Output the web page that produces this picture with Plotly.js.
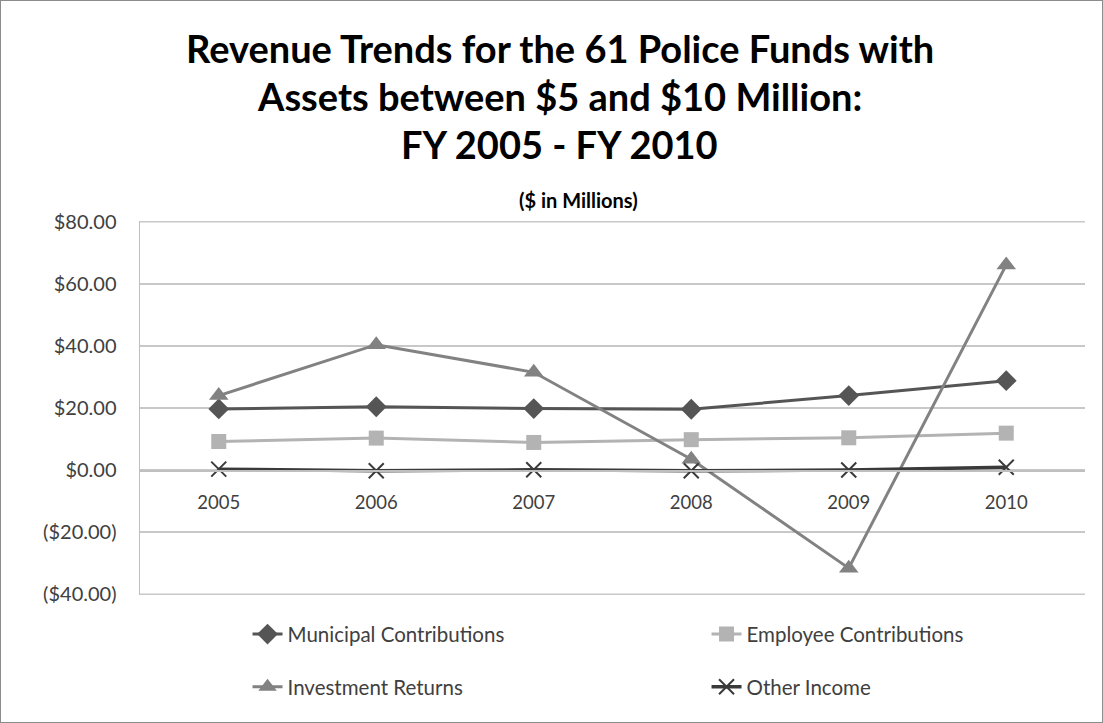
<!DOCTYPE html>
<html>
<head>
<meta charset="utf-8">
<script src="https://cdn.plot.ly/plotly-3.0.1.min.js"></script>
<style>
html,body{margin:0;padding:0;background:#fff;}
#chart{width:1101px;height:721px;border:1px solid #8c8c8c;}
</style>
</head>
<body>
<div id="chart"></div>
<script>
const years = ["2005","2006","2007","2008","2009","2010"];
const municipal = [19.7, 20.4, 19.8, 19.6, 24.0, 28.8];
const employee = [9.2, 10.3, 8.9, 9.8, 10.4, 11.9];
const investment = [24.0, 40.4, 31.5, 3.5, -31.6, 66.1];
const other = [0.3, -0.2, 0.1, -0.2, 0.0, 0.9];
const yTickVals = [-40, -20, 0, 20, 40, 60, 80];
const yTickText = ["($40.00)", "($20.00)", "$0.00", "$20.00", "$40.00", "$60.00", "$80.00"];
const titleLines = ["Revenue Trends for the 61 Police Funds with", "Assets between $5 and $10 Million:", "FY 2005 - FY 2010"];
const subtitle = "($ in Millions)";

const FONT = "Lato, 'Open Sans', sans-serif";
const GRID = "#c8c8c8";

const traces = [
  {x: years, y: municipal, name: "Municipal Contributions", mode: "lines+markers",
   line: {color: "#555555", width: 3}, marker: {symbol: "diamond", size: 16, color: "#555555"}, legend: "legend"},
  {x: years, y: employee, name: "Employee Contributions", mode: "lines+markers",
   line: {color: "#b3b3b3", width: 3}, marker: {symbol: "square", size: 15, color: "#b3b3b3"}, legend: "legend2"},
  {x: years, y: investment, name: "Investment Returns", mode: "lines+markers",
   line: {color: "#828282", width: 3}, marker: {symbol: "triangle-up", size: 17, color: "#828282"}, legend: "legend3"},
  {x: years, y: other, name: "Other Income", mode: "lines+markers",
   line: {color: "#3a3a3a", width: 3.5}, marker: {symbol: "x-thin", size: 15, line: {color: "#3a3a3a", width: 2}, color: "#3a3a3a"}, legend: "legend4"}
];

const legFont = {family: FONT, size: 20.5, color: "#404040"};
function leg(x, y) {
  return {orientation: "h", x: x, y: y, xanchor: "left", yanchor: "middle",
          font: legFont, bgcolor: "rgba(0,0,0,0)"};
}

const titleShifts = [173, 125, 77];
const annotations = titleLines.map((t, i) => ({
  text: "<b>" + t + "</b>", xref: "paper", yref: "paper", x: 0.444, y: 1, yanchor: "middle",
  yshift: titleShifts[i], showarrow: false, font: {family: FONT, size: 38, color: "#000000"}
}));
annotations.push({
  text: "<b>" + subtitle + "</b>", xref: "paper", yref: "paper", x: 0.4635, y: 1, yanchor: "middle",
  yshift: 21, showarrow: false, font: {family: FONT, size: 20, color: "#000000"}
});

const edgeVals = [yTickVals[0], yTickVals[yTickVals.length - 1]];
const shapes = edgeVals.map(v => ({
  type: "line", xref: "paper", yref: "y", x0: 0, x1: 1, y0: v, y1: v,
  line: {color: GRID, width: 1.5}, layer: "below"
}));

const layout = {
  width: 1101, height: 721,
  margin: {l: 139, r: 17, t: 220, b: 127},
  paper_bgcolor: "#ffffff", plot_bgcolor: "#ffffff",
  font: {family: FONT, color: "#404040", size: 18},
  showlegend: true,
  annotations: annotations,
  shapes: shapes,
  xaxis: {
    type: "category", anchor: "free", position: 40.25/120.5, range: [-0.5, 5.5],
    showgrid: false, showline: true, linecolor: "#bfbfbf", linewidth: 1.5,
    ticks: "outside", ticklen: 15, tickcolor: "rgba(0,0,0,0)",
    tickfont: {family: FONT, size: 18.5, color: "#404040"},
    zeroline: false, fixedrange: true
  },
  yaxis: {
    range: [-40.25, 80.25], tickvals: yTickVals, ticktext: yTickText,
    showgrid: true, gridcolor: GRID, gridwidth: 1.5,
    showline: true, linecolor: "#bfbfbf", linewidth: 1.5,
    zeroline: false, ticks: "outside", ticklen: 18, tickcolor: "rgba(0,0,0,0)",
    tickfont: {family: FONT, size: 20, color: "#404040"}, fixedrange: true
  },
  legend: leg(0.1138, -0.105),
  legend2: leg(0.5995, -0.105),
  legend3: leg(0.1138, -0.246),
  legend4: leg(0.5995, -0.246)
};

Plotly.newPlot("chart", traces, layout, {displayModeBar: false, staticPlot: true});
</script>
</body>
</html>
